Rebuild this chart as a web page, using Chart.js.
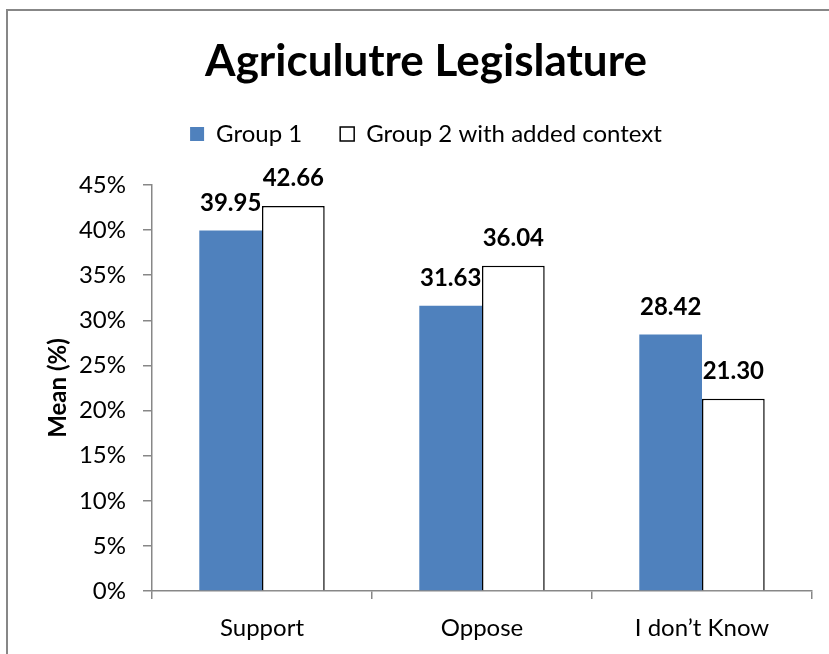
<!DOCTYPE html>
<html>
<head>
<meta charset="utf-8">
<title>Agriculutre Legislature</title>
<script src="https://cdn.jsdelivr.net/npm/chart.js@4.4.1/dist/chart.umd.min.js"></script>
<style>
  html, body { margin: 0; padding: 0; background: #fff; overflow: hidden; }
  #frame { position: absolute; left: 6px; top: 9px; width: 850px; height: 680px; border: 2px solid #878787; }
  #chart { position: absolute; left: 0; top: 0; }
</style>
</head>
<body>
<div id="frame"></div>
<canvas id="chart" width="829" height="654"></canvas>
<script>
// values
const categories = ["Support", "Oppose", "I don\u2019t Know"];
const group1 = [39.95, 31.63, 28.42];
const group2 = [42.66, 36.04, 21.30];
const seriesNames = ["Group 1", "Group 2 with added context"];
const yMin = 0;
const yMax = 45;
const yStep = 5;

const blue = "#4F81BD";
const axisGrey = "#878787";
const fontName = "Lato, 'Open Sans', sans-serif";

Chart.defaults.color = "#000";
Chart.defaults.font.family = fontName;

// numbers above the bars
const barLabels = {
  id: "barLabels",
  afterDatasetsDraw(chart) {
    const ctx = chart.ctx;
    ctx.save();
    ctx.font = "bold 24px " + fontName;
    ctx.fillStyle = "#000";
    ctx.textAlign = "center";
    ctx.textBaseline = "alphabetic";
    chart.data.datasets.forEach((ds, i) => {
      chart.getDatasetMeta(i).data.forEach((bar, j) => {
        ctx.fillText(ds.data[j].toFixed(2), bar.x, bar.y - 20);
      });
    });
    ctx.restore();
  }
};

// extra room under the legend, like the excel layout
const legendGap = {
  id: "legendGap",
  beforeInit(chart) {
    const fit = chart.legend.fit;
    chart.legend.fit = function () {
      fit.call(this);
      this.height += 29;
    };
  }
};

new Chart(document.getElementById("chart"), {
  type: "bar",
  data: {
    labels: categories,
    datasets: [
      { label: seriesNames[0], data: group1, backgroundColor: blue, borderWidth: 0 },
      { label: seriesNames[1], data: group2, backgroundColor: "#fff", borderColor: "#000", borderWidth: 1.5 }
    ]
  },
  plugins: [legendGap, barLabels],
  options: {
    responsive: false,
    animation: false,
    layout: { padding: { left: 40, right: 17, top: 0, bottom: 0 } },
    datasets: { bar: { categoryPercentage: 0.57, barPercentage: 1 } },
    plugins: {
      title: {
        display: true,
        text: "Agriculutre Legislature",
        font: { size: 44, weight: "bold", lineHeight: 1.0 },
        color: "#000",
        padding: { top: 40, bottom: 0 }
      },
      legend: {
        labels: {
          boxWidth: 14,
          boxHeight: 14,
          padding: 38,
          font: { size: 24 },
          color: "#000"
        }
      },
      tooltip: { enabled: false }
    },
    scales: {
      x: {
        grid: { drawOnChartArea: false, tickLength: 8, color: axisGrey, lineWidth: 1.5 },
        border: { color: axisGrey, width: 1.5 },
        ticks: { font: { size: 24 }, color: "#000", padding: 15 },
        afterFit(scale) { scale.height = 63; }
      },
      y: {
        min: yMin,
        max: yMax,
        grid: { drawOnChartArea: false, tickLength: 9, color: axisGrey, lineWidth: 1.5 },
        border: { color: axisGrey, width: 1.5 },
        ticks: {
          stepSize: yStep,
          font: { size: 24 },
          color: "#000",
          padding: 17,
          callback: (v) => v + "%"
        },
        title: {
          display: true,
          text: "Mean (%)",
          font: { size: 24, weight: "bold" },
          color: "#000",
          padding: { top: 4, bottom: 4 }
        },
        afterFit(scale) { scale.width = 112; }
      }
    }
  }
});
</script>
</body>
</html>
